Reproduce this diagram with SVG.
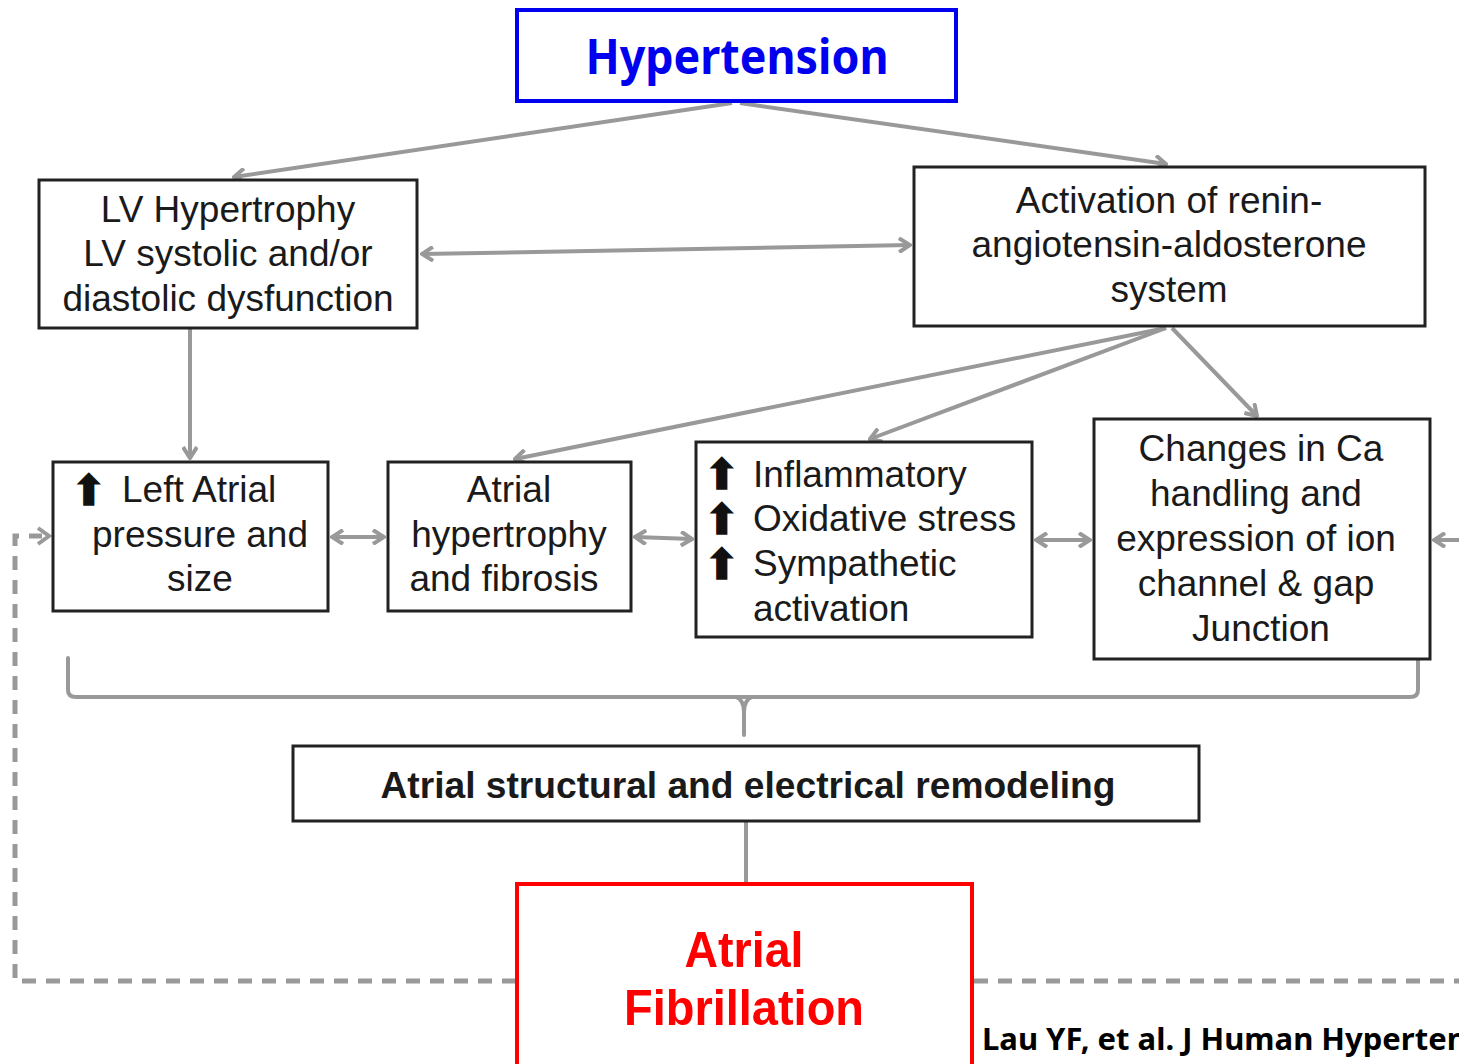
<svg xmlns="http://www.w3.org/2000/svg" width="1459" height="1064" viewBox="0 0 1459 1064">
<defs>
<style>
.box{fill:#fff;stroke:#222;stroke-width:3}
.t{font-family:"Liberation Sans",Arial,sans-serif;font-size:37px;fill:#1a1a1a;text-anchor:middle}
.tl{font-family:"Liberation Sans",Arial,sans-serif;font-size:37px;fill:#1a1a1a}
.up{font-family:"DejaVu Sans",sans-serif;font-size:42px;fill:#111;stroke:#111;stroke-width:1.5}
.c{fill:none;stroke:#999;stroke-width:4;stroke-linecap:round}
.ca{fill:none;stroke:#999;stroke-width:4;marker-end:url(#ah)}
.cb{fill:none;stroke:#999;stroke-width:4;marker-end:url(#ah);marker-start:url(#ah)}
.dash{fill:none;stroke:#999;stroke-width:5;stroke-dasharray:14 10}
.af{font-family:"Liberation Sans",Arial,sans-serif;font-weight:bold;font-size:50px;fill:#ff0000;text-anchor:middle}
</style>
<marker id="ah" viewBox="0 0 14 16" refX="12" refY="8" markerWidth="14" markerHeight="16" markerUnits="userSpaceOnUse" orient="auto-start-reverse">
<path d="M1,1 L12,8 L1,15" fill="none" stroke="#999" stroke-width="4"/>
</marker>
</defs>
<rect width="1459" height="1064" fill="#fff"/>

<g id="connectors">
<line class="ca" x1="732" y1="103" x2="234" y2="177"/>
<line class="ca" x1="740" y1="103" x2="1166" y2="164"/>
<line class="cb" x1="422" y1="254" x2="910" y2="245"/>
<line class="ca" x1="190" y1="329" x2="190" y2="458"/>
<line class="ca" x1="1166" y1="328" x2="515" y2="459"/>
<line class="ca" x1="1166" y1="328" x2="870" y2="439"/>
<line class="ca" x1="1172" y1="328" x2="1257" y2="416"/>
<line class="cb" x1="332" y1="537" x2="384" y2="537"/>
<line class="cb" x1="635" y1="537" x2="692" y2="539"/>
<line class="cb" x1="1036" y1="540" x2="1090" y2="540"/>
<line class="ca" x1="1459" y1="540" x2="1434" y2="540"/>
<path class="c" d="M68,658 L68,690 Q68,697 76,697 L1410,697 Q1418,697 1418,690 L1418,658"/>
<path class="c" d="M736,697 Q744,700 744,712 L744,735 M752,697 Q744,700 744,712"/>
<line class="c" x1="746" y1="822" x2="746" y2="882"/>
<path class="dash" d="M516,981 L15,981 L15,536 L42,536"/>
<path d="M38,528 L49,536 L38,544" fill="none" stroke="#999" stroke-width="4"/>
<path class="dash" d="M974,981 L1459,981"/>
</g>

<g id="hypertension">
<rect x="517" y="10" width="439" height="91" fill="#fff" stroke="#0000ee" stroke-width="4"/>
<text x="737" y="74" font-family="'Noto Sans','Open Sans',sans-serif" font-weight="bold" font-size="48" fill="#0000ee" text-anchor="middle" textLength="303" lengthAdjust="spacingAndGlyphs">Hypertension</text>
</g>

<g id="lv">
<rect class="box" x="39" y="180" width="378" height="148"/>
<text class="t" x="228" y="222">LV Hypertrophy</text>
<text class="t" x="228" y="266">LV systolic and/or</text>
<text class="t" x="228" y="311">diastolic dysfunction</text>
</g>

<g id="raas">
<rect class="box" x="914" y="167" width="511" height="159"/>
<text class="t" x="1169" y="213">Activation of renin-</text>
<text class="t" x="1169" y="257">angiotensin-aldosterone</text>
<text class="t" x="1169" y="302">system</text>
</g>

<g id="leftatrial">
<rect class="box" x="53" y="462" width="275" height="149"/>
<text class="up" x="71" y="505">⬆</text>
<text class="tl" x="122" y="502">Left Atrial</text>
<text class="t" x="200" y="547">pressure and</text>
<text class="t" x="200" y="591">size</text>
</g>

<g id="atrialhyp">
<rect class="box" x="388" y="462" width="243" height="149"/>
<text class="t" x="509" y="502">Atrial</text>
<text class="t" x="509" y="547">hypertrophy</text>
<text class="t" x="504" y="591">and fibrosis</text>
</g>

<g id="inflammatory">
<rect class="box" x="696" y="442" width="336" height="195"/>
<text class="up" x="704" y="489">⬆</text>
<text class="up" x="704" y="534">⬆</text>
<text class="up" x="704" y="579">⬆</text>
<text class="tl" x="753" y="487">Inflammatory</text>
<text class="tl" x="753" y="531">Oxidative stress</text>
<text class="tl" x="753" y="576">Sympathetic</text>
<text class="tl" x="753" y="621">activation</text>
</g>

<g id="changes">
<rect class="box" x="1094" y="419" width="336" height="240"/>
<text class="t" x="1261" y="461">Changes in Ca</text>
<text class="t" x="1256" y="506">handling and</text>
<text class="t" x="1256" y="551">expression of ion</text>
<text class="t" x="1256" y="596">channel &amp; gap</text>
<text class="t" x="1261" y="641">Junction</text>
</g>

<g id="remodeling">
<rect class="box" x="293" y="746" width="906" height="75"/>
<text x="748" y="798" font-family="'Liberation Sans',Arial,sans-serif" font-weight="bold" font-size="36" fill="#1a1a1a" text-anchor="middle" textLength="735" lengthAdjust="spacingAndGlyphs">Atrial structural and electrical remodeling</text>
</g>

<g id="af">
<rect x="517" y="884" width="455" height="190" fill="#fff" stroke="#ff0000" stroke-width="4"/>
<text class="af" x="744" y="967" textLength="119" lengthAdjust="spacingAndGlyphs">Atrial</text>
<text class="af" x="744" y="1025" textLength="240" lengthAdjust="spacingAndGlyphs">Fibrillation</text>
</g>

<g id="citation">
<text x="982" y="1050" font-family="'Noto Sans','Open Sans',sans-serif" font-weight="bold" font-size="31" fill="#000">Lau YF, et al. J Human Hypertens</text>
</g>
</svg>
